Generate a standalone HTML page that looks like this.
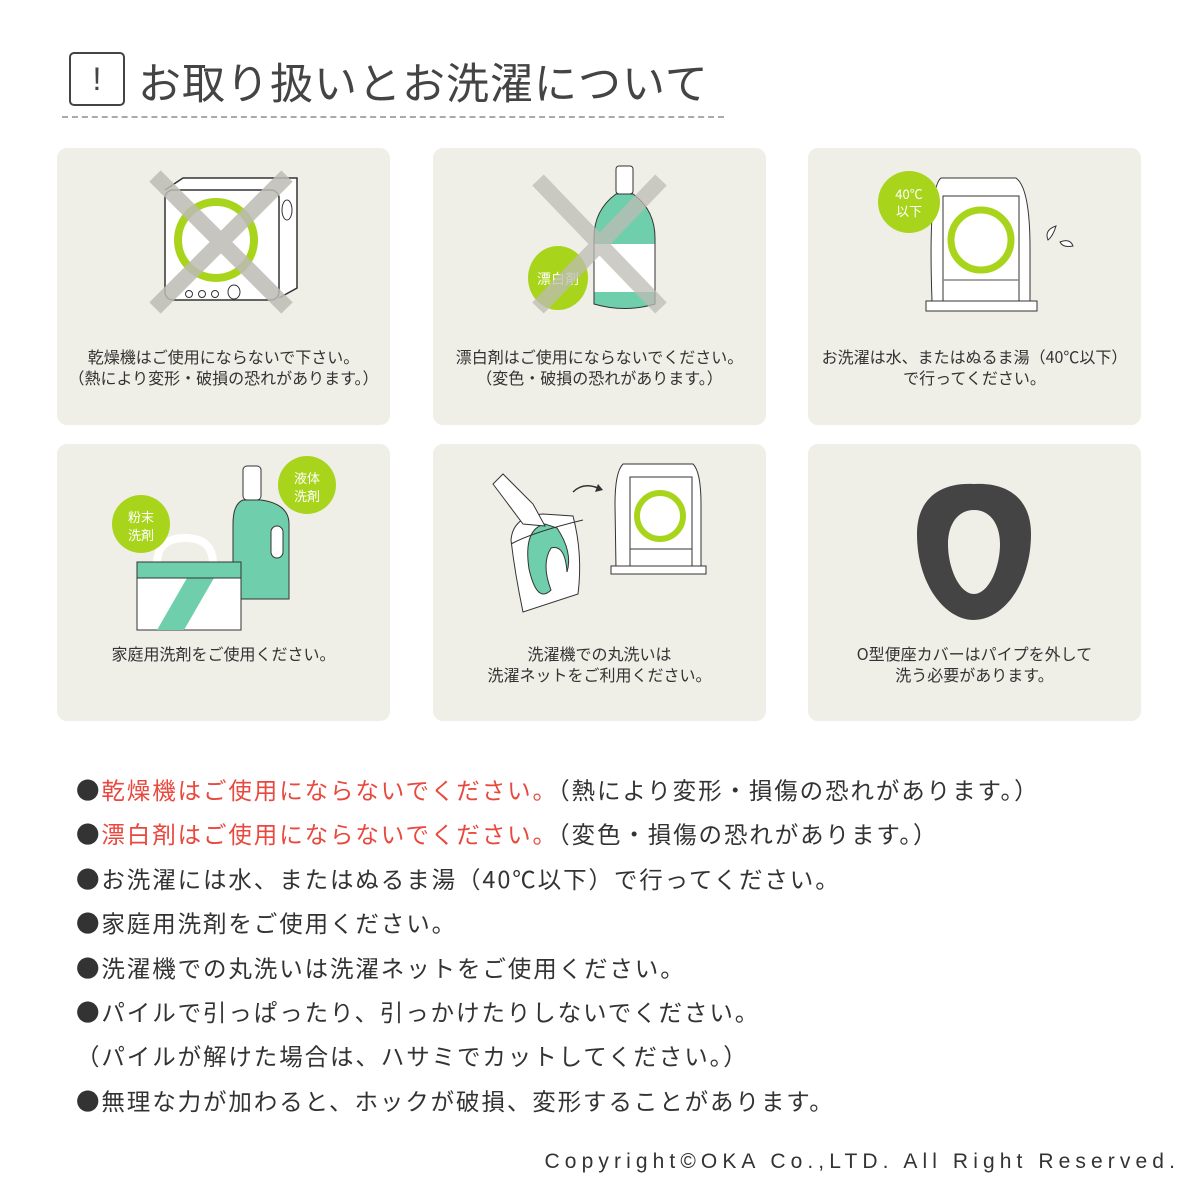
<!DOCTYPE html>
<html><head><meta charset="utf-8"><style>
body{margin:0;width:1200px;height:1200px;background:#fff;position:relative;overflow:hidden;font-family:"Noto Sans CJK JP","Liberation Sans",sans-serif;color:#333}
.card{position:absolute;width:333px;height:277px;background:#efeee7;border-radius:10px}
.cap{position:absolute;left:0;width:100%;text-align:center;font-size:16px;line-height:21px;color:#333;white-space:nowrap}
.l{position:absolute;left:76px;font-size:23.5px;letter-spacing:1.9px;color:#333;white-space:nowrap}
.r{color:#e9483e}
svg{position:absolute;left:0;top:0}
</style></head><body>
<div style="position:absolute;left:69px;top:52px;width:52px;height:50px;border:2px solid #444;border-radius:5px;font-size:32px;text-align:center;line-height:50px;color:#444;font-family:'Liberation Sans',sans-serif">!</div>
<div style="position:absolute;left:138px;top:50px;font-size:43px;color:#444;white-space:nowrap;letter-spacing:1px">お取り扱いとお洗濯について</div>
<div style="position:absolute;left:62px;top:116px;width:662px;border-top:2px dashed #aaa"></div>

<div class="card" style="left:57px;top:148px">
<svg width="333" height="277">
<path d="M108 42 L126 30 L240 30 L240 140 L222 150" fill="#fff" stroke="#333" stroke-width="1.5"/>
<rect x="108" y="42" width="114" height="110" rx="8" fill="#fff" stroke="#333" stroke-width="1.5"/>
<ellipse cx="230" cy="62" rx="5" ry="10" fill="none" stroke="#333"/>
<circle cx="132" cy="146" r="3.5" fill="none" stroke="#333"/><circle cx="145" cy="146" r="3.5" fill="none" stroke="#333"/><circle cx="158" cy="146" r="3.5" fill="none" stroke="#333"/>
<ellipse cx="177" cy="144" rx="6" ry="7" fill="none" stroke="#333"/>
<ellipse cx="159" cy="92" rx="38" ry="38" fill="none" stroke="#a8d51c" stroke-width="8"/>
<path d="M98 28 L230 160 M230 28 L98 160" stroke="#bdbcb5" stroke-width="16" opacity=".85"/>
</svg>
<div class="cap" style="top:198px">乾燥機はご使用にならないで下さい。<br>（熱により変形・破損の恐れがあります。）</div></div>

<div class="card" style="left:433px;top:148px">
<svg width="333" height="277">
<rect x="183" y="18" width="17" height="28" rx="3" fill="#fff" stroke="#333"/>
<path d="M183 46 L200 46 Q222 62 222 90 L222 156 Q192 165 161 156 L161 90 Q161 62 183 46Z" fill="#6fcfac" stroke="#333"/>
<rect x="161.5" y="96" width="60" height="48" fill="#fff"/>
<ellipse cx="125" cy="130" rx="30" ry="32" fill="#a8d51c"/>
<text x="125" y="136" text-anchor="middle" fill="#fff" font-size="14">漂白剤</text>
<path d="M105 32 L228 160 M228 32 L105 160" stroke="#bdbcb5" stroke-width="16" opacity=".75"/>
</svg>
<div class="cap" style="top:198px">漂白剤はご使用にならないでください。<br>（変色・破損の恐れがあります。）</div></div>

<div class="card" style="left:808px;top:148px">
<svg width="333" height="277">
<path d="M133 30 L208 30 Q222 40 222 100 L222 153 L124 153 Q120 40 133 30Z" fill="#fff" stroke="#333"/>
<rect x="135" y="48" width="76" height="105" fill="#fff" stroke="#333"/>
<line x1="135" y1="132" x2="211" y2="132" stroke="#888" stroke-width="1.5"/>
<rect x="118" y="153" width="111" height="10" fill="#fff" stroke="#333"/>
<circle cx="173" cy="92" r="30" fill="none" stroke="#a8d51c" stroke-width="7"/>
<circle cx="101" cy="54" r="31" fill="#a8d51c"/>
<text x="101" y="51" text-anchor="middle" fill="#fff" font-size="13">40℃</text>
<text x="101" y="68" text-anchor="middle" fill="#fff" font-size="13">以下</text>
<path d="M240 92 Q236 82 248 78 Q245 88 240 92Z M252 94 Q262 90 265 98 Q255 100 252 94Z" fill="#fff" stroke="#333"/>
</svg>
<div class="cap" style="top:198px">お洗濯は水、またはぬるま湯（40℃以下）<br>で行ってください。</div></div>

<div class="card" style="left:57px;top:444px">
<svg width="333" height="277">
<rect x="186" y="22" width="18" height="34" rx="4" fill="#fff" stroke="#333"/>
<path d="M186 56 L204 56 Q232 60 232 80 L232 155 L176 155 L176 80 Q176 60 186 56Z" fill="#6fcfac" stroke="#333"/>
<rect x="214" y="82" width="12" height="32" rx="6" fill="#fff" stroke="#333"/>
<path d="M100 120 Q100 94 128 94 Q156 94 156 120" fill="none" stroke="#fff" stroke-width="8"/>
<path d="M80 134 L184 134 L184 186 L80 186Z" fill="#fff" stroke="#333"/>
<path d="M100 186 L130 134 L157 134 L127 186Z" fill="#6fcfac"/>
<path d="M80 118 L184 118 L184 134 L80 134Z" fill="#6fcfac" stroke="#333"/>
<circle cx="84" cy="80" r="29" fill="#a8d51c"/>
<text x="84" y="78" text-anchor="middle" fill="#fff" font-size="13">粉末</text>
<text x="84" y="96" text-anchor="middle" fill="#fff" font-size="13">洗剤</text>
<circle cx="250" cy="41" r="29" fill="#a8d51c"/>
<text x="250" y="39" text-anchor="middle" fill="#fff" font-size="13">液体</text>
<text x="250" y="57" text-anchor="middle" fill="#fff" font-size="13">洗剤</text>
</svg>
<div class="cap" style="top:199px">家庭用洗剤をご使用ください。</div></div>

<div class="card" style="left:433px;top:444px">
<svg width="333" height="277">
<path d="M190 20 L260 20 Q268 28 268 60 L268 125 L183 125 L182 60 Q182 28 190 20Z" fill="#fff" stroke="#333"/>
<rect x="197" y="33" width="62" height="90" fill="#fff" stroke="#333"/>
<line x1="197" y1="105" x2="259" y2="105" stroke="#333"/>
<rect x="178" y="122" width="95" height="8" fill="#fff" stroke="#333"/>
<circle cx="227" cy="72" r="23" fill="none" stroke="#a8d51c" stroke-width="6"/>
<path d="M140 48 Q150 38 165 44" fill="none" stroke="#333" stroke-width="1.5"/><path d="M165 40 L170 46 L162 48Z" fill="#333"/>
<path d="M78 96 Q80 72 110 70 L140 72 Q150 110 145 150 L90 168 Q82 130 78 96Z" fill="#fff" stroke="#333"/>
<path d="M112 80 Q90 85 96 125 Q104 160 118 146 Q108 120 118 104 Q132 100 134 128 Q140 108 124 84Z" fill="#6fcfac" stroke="#333"/>
<path d="M60 40 L90 80 L112 82 L100 60 L70 30Z" fill="#fff" stroke="#333"/>
<path d="M78 100 Q100 88 150 76" fill="none" stroke="#333"/>
</svg>
<div class="cap" style="top:199px">洗濯機での丸洗いは<br>洗濯ネットをご利用ください。</div></div>

<div class="card" style="left:808px;top:444px">
<svg width="333" height="277">
<path d="M166 40 C200 38 223 55 223 90 C223 140 195 176 166 176 C137 176 109 140 109 90 C109 55 132 38 166 40Z M166 66 C150 66 140 80 140 100 C140 125 152 150 166 150 C180 150 192 125 192 100 C192 80 182 66 166 66Z" fill="#444" fill-rule="evenodd"/>
</svg>
<div class="cap" style="top:199px">O型便座カバーはパイプを外して<br>洗う必要があります。</div></div>

<div class="l" style="top:772px">●<span class="r">乾燥機はご使用にならないでください。</span>（熱により変形・損傷の恐れがあります。）</div>
<div class="l" style="top:816px">●<span class="r">漂白剤はご使用にならないでください。</span>（変色・損傷の恐れがあります。）</div>
<div class="l" style="top:861px">●お洗濯には水、またはぬるま湯（40℃以下）で行ってください。</div>
<div class="l" style="top:905px">●家庭用洗剤をご使用ください。</div>
<div class="l" style="top:950px">●洗濯機での丸洗いは洗濯ネットをご使用ください。</div>
<div class="l" style="top:994px">●パイルで引っぱったり、引っかけたりしないでください。</div>
<div class="l" style="top:1038px">（パイルが解けた場合は、ハサミでカットしてください。）</div>
<div class="l" style="top:1083px">●無理な力が加わると、ホックが破損、変形することがあります。</div>
<div style="position:absolute;right:20px;top:1150px;font-size:21px;letter-spacing:5.1px;color:#333;white-space:nowrap;font-family:'Liberation Sans',sans-serif">Copyright©OKA Co.,LTD. All Right Reserved.</div>
</body></html>
